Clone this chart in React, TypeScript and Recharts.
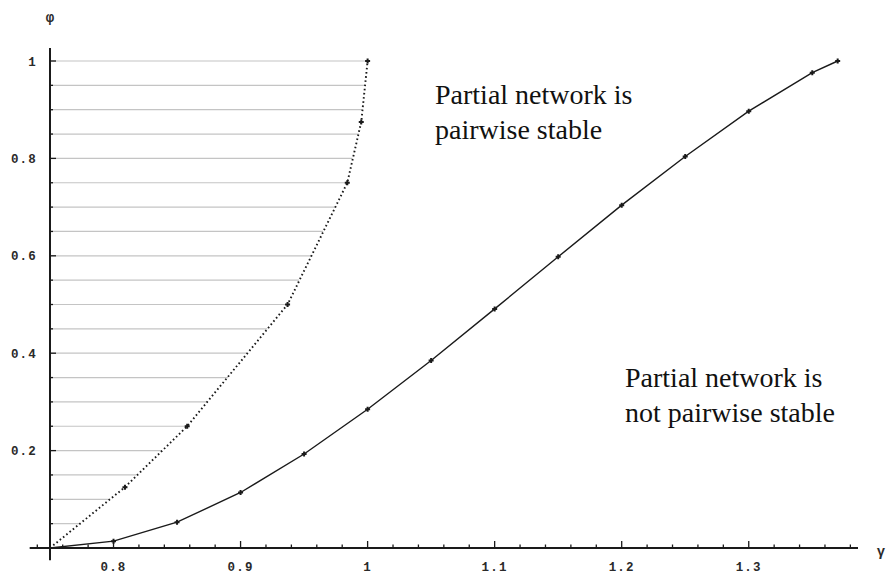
import React from 'react';
import { ScatterChart, Scatter, XAxis, YAxis, ReferenceLine } from 'recharts';

// solid curve: critical phi for each gamma
const gammaSteps = [0.75, 0.8, 0.85, 0.9, 0.95, 1.0, 1.05, 1.1, 1.15, 1.2, 1.25, 1.3, 1.35, 1.37];
const phiCritical = [0, 0.014, 0.053, 0.114, 0.193, 0.285, 0.385, 0.491, 0.598, 0.704, 0.804, 0.897, 0.976, 1.0];

// dotted boundary of the shaded region
const boundaryPhi = [0, 0.125, 0.25, 0.5, 0.75, 0.875, 1];
const boundaryGamma = [0.75, 0.809, 0.858, 0.937, 0.984, 0.995, 1.0];

// horizontal shading lines, each running from the axis to the boundary
const hatchPhi = [0.05, 0.1, 0.15, 0.2, 0.25, 0.3, 0.35, 0.4, 0.45, 0.5, 0.55, 0.6, 0.65, 0.7, 0.75, 0.8, 0.85, 0.9, 0.95, 1.0];
const hatchEnd = [0.773, 0.797, 0.818, 0.838, 0.858, 0.874, 0.89, 0.905, 0.921, 0.937, 0.946, 0.956, 0.965, 0.974, 0.984, 0.988, 0.993, 0.996, 0.998, 1.0];

const xMajorTicks = [0.8, 0.9, 1, 1.1, 1.2, 1.3];
const xTickLabels = ['0.8', '0.9', '1', '1.1', '1.2', '1.3'];
const xMinorTicks = [0.74, 0.76, 0.78, 0.82, 0.84, 0.86, 0.88, 0.92, 0.94, 0.96, 0.98, 1.02, 1.04, 1.06, 1.08,
  1.12, 1.14, 1.16, 1.18, 1.22, 1.24, 1.26, 1.28, 1.32, 1.34, 1.36, 1.38];

const yMajorTicks = [0.2, 0.4, 0.6, 0.8, 1];
const yTickLabels = ['0.2', '0.4', '0.6', '0.8', '1'];
const yMinorTicks = [0.05, 0.1, 0.15, 0.25, 0.3, 0.35, 0.45, 0.5, 0.55, 0.65, 0.7, 0.75, 0.85, 0.9, 0.95];

const W = 889;
const H = 574;
const INK = '#1a1a1a';
const LABEL = '#2a2a2a';
const MONO = '"Liberation Mono", "DejaVu Sans Mono", monospace';
const SERIF = '"Liberation Serif", "DejaVu Serif", serif';

const solidData = gammaSteps.map((g, i) => ({ x: g, y: phiCritical[i] }));
const boundaryData = boundaryGamma.map((g, i) => ({ x: g, y: boundaryPhi[i] }));

const findMajor = (list: number[], v: number) => list.findIndex((t) => Math.abs(t - v) < 1e-6);

// ticks point into the plot, Mathematica style
const XTick = (props: any) => {
  const { x, y, payload } = props;
  const i = findMajor(xMajorTicks, payload.value);
  const len = i >= 0 ? 7 : 3.5;
  return (
    <g>
      <line x1={x} x2={x} y1={y} y2={y - len} stroke={INK} strokeWidth={1.3} />
      {i >= 0 && (
        <text x={x} y={y + 23} textAnchor="middle" fontFamily={MONO} fontSize={12.5} fontWeight="bold" letterSpacing={1.2} fill={LABEL}>
          {xTickLabels[i]}
        </text>
      )}
    </g>
  );
};

const YTick = (props: any) => {
  const { x, y, payload } = props;
  const i = findMajor(yMajorTicks, payload.value);
  const len = i >= 0 ? 6 : 3;
  return (
    <g>
      <line x1={x} x2={x + len} y1={y} y2={y} stroke={INK} strokeWidth={1.3} />
      {i >= 0 && (
        <text x={x - 13} y={y + 4.5} textAnchor="end" fontFamily={MONO} fontSize={12.5} fontWeight="bold" letterSpacing={1.2} fill={LABEL}>
          {yTickLabels[i]}
        </text>
      )}
    </g>
  );
};

const Mark = (props: any) => {
  const { cx, cy } = props;
  if (cx == null || cy == null) return null;
  return (
    <path
      d={`M${cx - 2.5},${cy}H${cx + 2.5}M${cx},${cy - 2.5}V${cy + 2.5}`}
      stroke={INK}
      strokeWidth={2}
    />
  );
};

export default function App() {
  return (
    <div style={{ position: 'absolute', left: 0, top: 0, width: W, height: H, background: '#fff' }}>
      <ScatterChart width={W} height={H} margin={{ top: 48, right: 31, bottom: 0, left: 0 }}>
        <XAxis
          type="number"
          dataKey="x"
          domain={[0.75, 1.386]}
          allowDataOverflow
          ticks={[...xMinorTicks, ...xMajorTicks].sort((a, b) => a - b)}
          interval={0}
          tick={<XTick />}
          tickSize={0}
          tickMargin={0}
          axisLine={false}
          tickLine={false}
          height={26}
        />
        <YAxis
          type="number"
          dataKey="y"
          domain={[0, 1.0267]}
          allowDataOverflow
          ticks={[...yMinorTicks, ...yMajorTicks].sort((a, b) => a - b)}
          interval={0}
          tick={<YTick />}
          tickSize={0}
          tickMargin={0}
          axisLine={false}
          tickLine={false}
          width={50}
        />
        {hatchPhi.map((p, i) => (
          <ReferenceLine
            key={p}
            segment={[{ x: 0.75, y: p }, { x: hatchEnd[i], y: p }]}
            stroke="#c4c4c4"
            strokeWidth={1.2}
          />
        ))}
        <ReferenceLine
          segment={[{ x: 0.734, y: 0 }, { x: 1.386, y: 0 }]}
          stroke={INK}
          strokeWidth={2}
          ifOverflow="visible"
        />
        <ReferenceLine
          segment={[{ x: 0.75, y: -0.025 }, { x: 0.75, y: 1.0267 }]}
          stroke={INK}
          strokeWidth={2}
          ifOverflow="visible"
        />
        <Scatter
          data={boundaryData}
          isAnimationActive={false}
          lineType="joint"
          line={{ stroke: INK, strokeWidth: 1.9, strokeDasharray: '1.6 2.6' }}
          shape={<Mark />}
        />
        <Scatter
          data={solidData}
          isAnimationActive={false}
          lineType="joint"
          line={{ stroke: INK, strokeWidth: 1.4 }}
          shape={<Mark />}
        />
      </ScatterChart>
      <svg width={W} height={H} style={{ position: 'absolute', left: 0, top: 0, pointerEvents: 'none' }}>
        <text x={50} y={22} textAnchor="middle" fontFamily={MONO} fontSize={14} fontWeight="bold" fill={LABEL}>φ</text>
        <text x={881} y={556} textAnchor="middle" fontFamily={MONO} fontSize={14} fontWeight="bold" fill={LABEL}>γ</text>
        <g fontFamily={SERIF} fontSize={28} fill="#111">
          <text x={435} y={104}>Partial network is</text>
          <text x={435} y={139}>pairwise stable</text>
          <text x={625} y={387}>Partial network is</text>
          <text x={625} y={422}>not pairwise stable</text>
        </g>
      </svg>
    </div>
  );
}
